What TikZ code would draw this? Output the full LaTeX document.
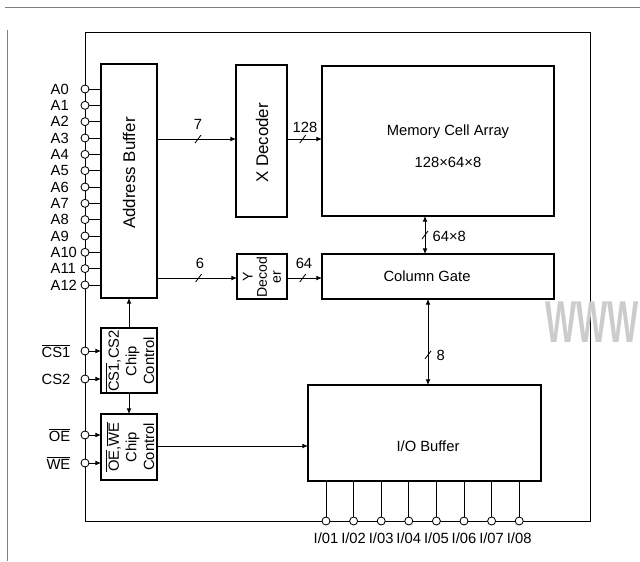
\documentclass[tikz,border=0pt]{standalone}
\usepackage{fontspec}
\setmainfont{Liberation Sans}
\usetikzlibrary{arrows.meta}

\begin{document}
\begin{tikzpicture}[
  x=0.025cm, y=-0.025cm, font=\fontsize{10.5}{12.5}\selectfont,
  box/.style={draw, line width=1.2pt, inner sep=0pt, outer sep=0pt},
  arrow/.style={-{Latex[length=1.4mm,width=1.2mm]}, line width=0.6pt},
  biarrow/.style={{Latex[length=1.4mm,width=1.2mm]}-{Latex[length=1.4mm,width=1.2mm]}, line width=0.6pt},
  wire/.style={line width=0.6pt},
  pin/.style={circle, draw, fill=white, line width=0.6pt, inner sep=0pt, minimum size=0.2cm},
  tag/.style={inner sep=1pt}
]
\useasboundingbox (0,0) rectangle (640,561);
% scan frame and package outline
\draw[gray, line width=0.4pt] (5,7) -- (640,7);
\draw[gray, line width=0.4pt] (7,30) -- (7,561);
\draw[wire] (85,32) rectangle (590,521);
\node[text=gray!40, font=\fontsize{42}{42}\selectfont\bfseries, anchor=east, inner sep=0pt] (wm) at (639,322) {\scalebox{0.56}[1]{WWW}};
% blocks
\node[box, minimum width=1.4cm, minimum height=5.85cm] (addr) at (129,181) {};
\node[rotate=90, font=\large] (addrtxt) at (129,173) {Address Buffer};
\node[box, minimum width=1.275cm, minimum height=3.8cm] (xdec) at (261.5,141) {};
\node[rotate=90, font=\large] (xdectxt) at (262,143) {X Decoder};
\node[box, minimum width=5.8cm, minimum height=3.75cm] (mem) at (438,141) {};
\node[align=center] (memtxt) at (448,146) {Memory Cell Array\\[10pt]128×64×8};
\node[box, minimum width=1.25cm, minimum height=1.125cm] (ydec) at (262,276.5) {};
\node[rotate=90, align=center, font=\fontsize{10}{10}\selectfont] (ydectxt) at (262,277) {Y\\Decod\\er};
\node[box, minimum width=5.8cm, minimum height=1.125cm] (col) at (438,276.5) {};
\node (coltxt) at (427,276) {Column Gate};
\node[box, minimum width=1.4cm, minimum height=1.625cm] (cscon) at (129,360.5) {};
\node[rotate=90, align=center] (cstxt) at (130,361) {$\overline{\mbox{CS1}}$,CS2\\Chip\\Control};
\node[box, minimum width=1.4cm, minimum height=1.65cm] (oecon) at (129,447) {};
\node[rotate=90, align=center] (oetxt) at (130,447) {$\overline{\mbox{OE}}$,$\overline{\mbox{WE}}$\\Chip\\Control};
\node[box, minimum width=5.825cm, minimum height=2.4cm] (iobuf) at (424.5,433) {};
\node (iotxt) at (428,446) {I/O Buffer};
% address pins
\foreach \i in {0,...,12} {
  \node[pin] (a\i) at (85,{89+16.33*\i}) {};
  \node[tag, anchor=west] (al\i) at (49,{89+16.33*\i}) {A\i};
  \draw[wire] (a\i) -- (a\i -| addr.west);
}
% control pins
\node[pin] (cs1) at (85,351) {};
\node[pin] (cs2) at (85,379) {};
\node[pin] (oe) at (85,435) {};
\node[pin] (we) at (85,463) {};
\node[tag, anchor=east] (cs1l) at (72,351) {$\overline{\mbox{CS1}}$};
\node[tag, anchor=east] (cs2l) at (72,379) {CS2};
\node[tag, anchor=east] (oel) at (72,435) {$\overline{\mbox{OE}}$};
\node[tag, anchor=east] (wel) at (72,463) {$\overline{\mbox{WE}}$};
\draw[arrow] (cs1) -- (cs1 -| cscon.west);
\draw[arrow] (cs2) -- (cs2 -| cscon.west);
\draw[arrow] (oe) -- (oe -| oecon.west);
\draw[arrow] (we) -- (we -| oecon.west);
% data pins
\foreach \i in {1,...,8} {
  \node[pin] (io\i) at ({298.4+27.6*\i},521) {};
  \node[tag] (iol\i) at ({298.4+27.6*\i},538) {I/0\i};
  \draw[wire] (io\i) -- (io\i |- iobuf.south);
}
% buses
\draw[arrow] (addr.east |- 0,139) -- coordinate[pos=.52] (t7) (xdec.west |- 0,139);
\draw[wire] ([shift={(-3,4)}]t7) -- ++(6,-8);
\node[tag] (n7) at (198,124) {7};
\draw[arrow] (addr.east |- 0,278) -- coordinate[pos=.52] (t6) (ydec.west |- 0,278);
\draw[wire] ([shift={(-3,4)}]t6) -- ++(6,-8);
\node[tag] (n6) at (200,263) {6};
\draw[arrow] (xdec.east |- 0,139) -- coordinate[pos=.45] (t128) (mem.west |- 0,139);
\draw[wire] ([shift={(-3,4)}]t128) -- ++(6,-8);
\node[tag] (n128) at (305,127) {128};
\draw[arrow] (ydec.east |- 0,278) -- coordinate[pos=.45] (t64) (col.west |- 0,278);
\draw[wire] ([shift={(-3,4)}]t64) -- ++(6,-8);
\node[tag] (n64) at (304,263) {64};
\draw[biarrow] (mem.south -| 425,0) -- coordinate[pos=.5] (t648) (col.north -| 425,0);
\draw[wire] ([shift={(-3,4)}]t648) -- ++(6,-8);
\node[tag, anchor=west] (n648) at (431,236) {64×8};
\draw[biarrow] (col.south -| 428,0) -- coordinate[pos=.65] (t8) (iobuf.north -| 428,0);
\draw[wire] ([shift={(-3,4)}]t8) -- ++(6,-8);
\node[tag, anchor=west] (n8) at (435,355) {8};
% control paths
\draw[arrow] (cscon.north) -- (addr.south);
\draw[arrow] (cscon.south) -- (oecon.north);
\draw[arrow] (oecon.east |- 0,446) -- (iobuf.west |- 0,446);
\end{tikzpicture}
\end{document}
